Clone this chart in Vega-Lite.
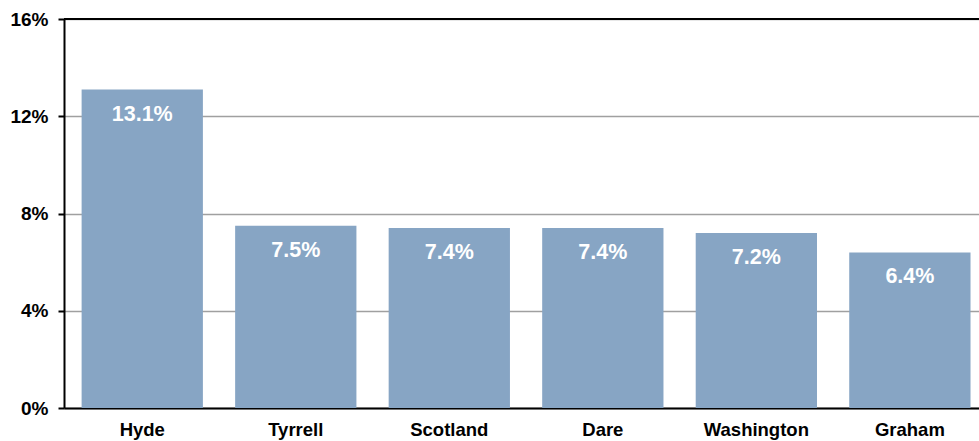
{
  "$schema": "https://vega.github.io/schema/vega-lite/v6.json",
  "width": 915,
  "height": 389,
  "autosize": {"type": "none"},
  "padding": {"left": 64, "top": 19, "right": 0, "bottom": 33},
  "background": "white",
  "config": {
    "view": {"stroke": null},
    "font": "Liberation Sans"
  },
  "data": {
    "values": [
      {"county": "Hyde", "rate": 0.131},
      {"county": "Tyrrell", "rate": 0.075},
      {"county": "Scotland", "rate": 0.074},
      {"county": "Dare", "rate": 0.074},
      {"county": "Washington", "rate": 0.072},
      {"county": "Graham", "rate": 0.064}
    ]
  },
  "encoding": {
    "x": {
      "field": "county",
      "type": "nominal",
      "sort": null,
      "scale": {"paddingInner": 0.21, "paddingOuter": 0.085, "align": 0.675},
      "axis": {
        "title": null,
        "labelAngle": 0,
        "labelFont": "Liberation Sans",
        "labelFontSize": 18.5,
        "labelFontWeight": "bold",
        "labelColor": "black",
        "labelPadding": 12,
        "ticks": false,
        "domainColor": "black",
        "domainWidth": 2
      }
    }
  },
  "layer": [
    {
      "mark": {"type": "bar", "color": "#87A5C4"},
      "encoding": {
        "y": {
          "field": "rate",
          "type": "quantitative",
          "scale": {"domain": [0, 0.16], "nice": false},
          "axis": {
            "title": null,
            "values": [0, 0.04, 0.08, 0.12, 0.16],
            "format": ".0%",
            "labelFont": "Liberation Sans",
            "labelFontSize": 19,
            "labelFontWeight": "bold",
            "labelColor": "black",
            "labelPadding": 10,
            "tickColor": "black",
            "tickSize": 6,
            "tickWidth": 2,
            "domainColor": "black",
            "domainWidth": 2,
            "grid": true,
            "gridColor": "#A0A0A0",
            "gridWidth": 1.5
          }
        }
      }
    },
    {
      "mark": {"type": "rule", "color": "black", "strokeWidth": 2},
      "encoding": {"y": {"datum": 0.16}, "x": null}
    },
    {
      "mark": {
        "type": "text",
        "color": "white",
        "fontSize": 21.5,
        "fontWeight": "bold",
        "font": "Liberation Sans",
        "baseline": "middle",
        "dy": 25
      },
      "encoding": {
        "y": {"field": "rate", "type": "quantitative"},
        "text": {"field": "rate", "type": "quantitative", "format": ".1%"}
      }
    }
  ]
}
